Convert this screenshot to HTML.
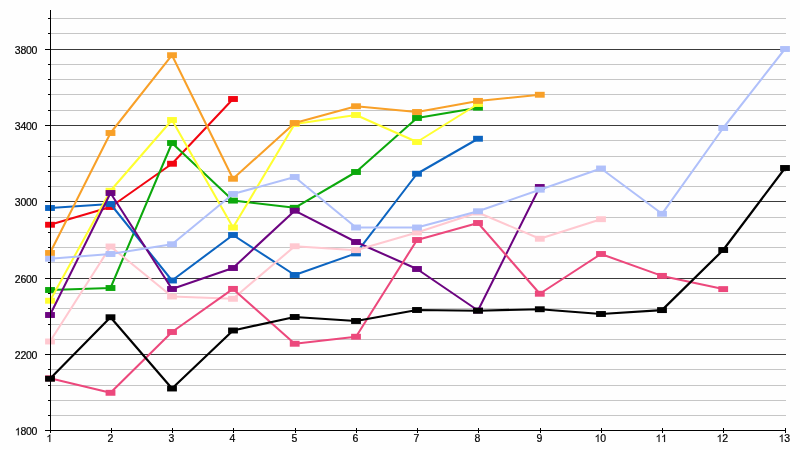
<!DOCTYPE html>
<html><head><meta charset="utf-8"><title>chart</title>
<style>
html,body{margin:0;padding:0;background:#fefefe;}
body{width:800px;height:450px;overflow:hidden;font-family:"Liberation Sans",sans-serif;}
svg{display:block;opacity:0.999;will-change:transform;}
text{font-family:"Liberation Sans",sans-serif;font-size:10.5px;fill:#000;stroke:#000;stroke-width:0.2px;}
</style></head><body>
<svg width="800" height="450" viewBox="0 0 800 450">
<rect x="0" y="0" width="800" height="450" fill="#fefefe"/>

<g shape-rendering="crispEdges">
<line x1="51" y1="18.5" x2="786" y2="18.5" stroke="#c6c6c6" stroke-width="1"/>
<line x1="48" y1="18.5" x2="51" y2="18.5" stroke="#000" stroke-width="1"/>
<line x1="51" y1="33.5" x2="786" y2="33.5" stroke="#c6c6c6" stroke-width="1"/>
<line x1="48" y1="33.5" x2="51" y2="33.5" stroke="#000" stroke-width="1"/>
<line x1="51" y1="49.5" x2="786" y2="49.5" stroke="#3a3a3a" stroke-width="1"/>
<line x1="45" y1="49.5" x2="51" y2="49.5" stroke="#000" stroke-width="1"/>
<line x1="51" y1="64.5" x2="786" y2="64.5" stroke="#c6c6c6" stroke-width="1"/>
<line x1="48" y1="64.5" x2="51" y2="64.5" stroke="#000" stroke-width="1"/>
<line x1="51" y1="79.5" x2="786" y2="79.5" stroke="#c6c6c6" stroke-width="1"/>
<line x1="48" y1="79.5" x2="51" y2="79.5" stroke="#000" stroke-width="1"/>
<line x1="51" y1="94.5" x2="786" y2="94.5" stroke="#c6c6c6" stroke-width="1"/>
<line x1="48" y1="94.5" x2="51" y2="94.5" stroke="#000" stroke-width="1"/>
<line x1="51" y1="110.5" x2="786" y2="110.5" stroke="#c6c6c6" stroke-width="1"/>
<line x1="48" y1="110.5" x2="51" y2="110.5" stroke="#000" stroke-width="1"/>
<line x1="51" y1="125.5" x2="786" y2="125.5" stroke="#3a3a3a" stroke-width="1"/>
<line x1="45" y1="125.5" x2="51" y2="125.5" stroke="#000" stroke-width="1"/>
<line x1="51" y1="140.5" x2="786" y2="140.5" stroke="#c6c6c6" stroke-width="1"/>
<line x1="48" y1="140.5" x2="51" y2="140.5" stroke="#000" stroke-width="1"/>
<line x1="51" y1="156.5" x2="786" y2="156.5" stroke="#c6c6c6" stroke-width="1"/>
<line x1="48" y1="156.5" x2="51" y2="156.5" stroke="#000" stroke-width="1"/>
<line x1="51" y1="171.5" x2="786" y2="171.5" stroke="#c6c6c6" stroke-width="1"/>
<line x1="48" y1="171.5" x2="51" y2="171.5" stroke="#000" stroke-width="1"/>
<line x1="51" y1="186.5" x2="786" y2="186.5" stroke="#c6c6c6" stroke-width="1"/>
<line x1="48" y1="186.5" x2="51" y2="186.5" stroke="#000" stroke-width="1"/>
<line x1="51" y1="201.5" x2="786" y2="201.5" stroke="#3a3a3a" stroke-width="1"/>
<line x1="45" y1="201.5" x2="51" y2="201.5" stroke="#000" stroke-width="1"/>
<line x1="51" y1="217.5" x2="786" y2="217.5" stroke="#c6c6c6" stroke-width="1"/>
<line x1="48" y1="217.5" x2="51" y2="217.5" stroke="#000" stroke-width="1"/>
<line x1="51" y1="232.5" x2="786" y2="232.5" stroke="#c6c6c6" stroke-width="1"/>
<line x1="48" y1="232.5" x2="51" y2="232.5" stroke="#000" stroke-width="1"/>
<line x1="51" y1="247.5" x2="786" y2="247.5" stroke="#c6c6c6" stroke-width="1"/>
<line x1="48" y1="247.5" x2="51" y2="247.5" stroke="#000" stroke-width="1"/>
<line x1="51" y1="262.5" x2="786" y2="262.5" stroke="#c6c6c6" stroke-width="1"/>
<line x1="48" y1="262.5" x2="51" y2="262.5" stroke="#000" stroke-width="1"/>
<line x1="51" y1="278.5" x2="786" y2="278.5" stroke="#3a3a3a" stroke-width="1"/>
<line x1="45" y1="278.5" x2="51" y2="278.5" stroke="#000" stroke-width="1"/>
<line x1="51" y1="293.5" x2="786" y2="293.5" stroke="#c6c6c6" stroke-width="1"/>
<line x1="48" y1="293.5" x2="51" y2="293.5" stroke="#000" stroke-width="1"/>
<line x1="51" y1="308.5" x2="786" y2="308.5" stroke="#c6c6c6" stroke-width="1"/>
<line x1="48" y1="308.5" x2="51" y2="308.5" stroke="#000" stroke-width="1"/>
<line x1="51" y1="324.5" x2="786" y2="324.5" stroke="#c6c6c6" stroke-width="1"/>
<line x1="48" y1="324.5" x2="51" y2="324.5" stroke="#000" stroke-width="1"/>
<line x1="51" y1="339.5" x2="786" y2="339.5" stroke="#c6c6c6" stroke-width="1"/>
<line x1="48" y1="339.5" x2="51" y2="339.5" stroke="#000" stroke-width="1"/>
<line x1="51" y1="354.5" x2="786" y2="354.5" stroke="#3a3a3a" stroke-width="1"/>
<line x1="45" y1="354.5" x2="51" y2="354.5" stroke="#000" stroke-width="1"/>
<line x1="51" y1="369.5" x2="786" y2="369.5" stroke="#c6c6c6" stroke-width="1"/>
<line x1="48" y1="369.5" x2="51" y2="369.5" stroke="#000" stroke-width="1"/>
<line x1="51" y1="385.5" x2="786" y2="385.5" stroke="#c6c6c6" stroke-width="1"/>
<line x1="48" y1="385.5" x2="51" y2="385.5" stroke="#000" stroke-width="1"/>
<line x1="51" y1="400.5" x2="786" y2="400.5" stroke="#c6c6c6" stroke-width="1"/>
<line x1="48" y1="400.5" x2="51" y2="400.5" stroke="#000" stroke-width="1"/>
<line x1="51" y1="415.5" x2="786" y2="415.5" stroke="#c6c6c6" stroke-width="1"/>
<line x1="48" y1="415.5" x2="51" y2="415.5" stroke="#000" stroke-width="1"/>
</g>

<path d="M763 0H583V1147Q518 1085 412.5 1023T223 930V1104Q373 1174.5 485 1275T644 1470H763Z" transform="translate(14.84,435.30) scale(0.005127,-0.005127)" fill="#000" stroke="#000" stroke-width="24"/>
<text x="20.38" y="435.30">8</text>
<text x="25.92" y="435.30">0</text>
<text x="31.46" y="435.30">0</text>
<text x="14.84" y="359.16">2</text>
<text x="20.38" y="359.16">2</text>
<text x="25.92" y="359.16">0</text>
<text x="31.46" y="359.16">0</text>
<text x="14.84" y="283.02">2</text>
<text x="20.38" y="283.02">6</text>
<text x="25.92" y="283.02">0</text>
<text x="31.46" y="283.02">0</text>
<text x="14.84" y="205.88">3</text>
<text x="20.38" y="205.88">0</text>
<text x="25.92" y="205.88">0</text>
<text x="31.46" y="205.88">0</text>
<text x="14.84" y="129.74">3</text>
<text x="20.38" y="129.74">4</text>
<text x="25.92" y="129.74">0</text>
<text x="31.46" y="129.74">0</text>
<text x="14.84" y="53.60">3</text>
<text x="20.38" y="53.60">8</text>
<text x="25.92" y="53.60">0</text>
<text x="31.46" y="53.60">0</text>
<path d="M763 0H583V1147Q518 1085 412.5 1023T223 930V1104Q373 1174.5 485 1275T644 1470H763Z" transform="translate(46.38,442.00) scale(0.005127,-0.005127)" fill="#000" stroke="#000" stroke-width="24"/>
<text x="107.38" y="442.00">2</text>
<text x="168.38" y="442.00">3</text>
<text x="229.38" y="442.00">4</text>
<text x="291.38" y="442.00">5</text>
<text x="352.38" y="442.00">6</text>
<text x="413.38" y="442.00">7</text>
<text x="474.38" y="442.00">8</text>
<text x="536.38" y="442.00">9</text>
<path d="M763 0H583V1147Q518 1085 412.5 1023T223 930V1104Q373 1174.5 485 1275T644 1470H763Z" transform="translate(594.61,442.00) scale(0.005127,-0.005127)" fill="#000" stroke="#000" stroke-width="24"/>
<text x="600.15" y="442.00">0</text>
<path d="M763 0H583V1147Q518 1085 412.5 1023T223 930V1104Q373 1174.5 485 1275T644 1470H763Z" transform="translate(655.61,442.00) scale(0.005127,-0.005127)" fill="#000" stroke="#000" stroke-width="24"/>
<path d="M763 0H583V1147Q518 1085 412.5 1023T223 930V1104Q373 1174.5 485 1275T644 1470H763Z" transform="translate(661.15,442.00) scale(0.005127,-0.005127)" fill="#000" stroke="#000" stroke-width="24"/>
<path d="M763 0H583V1147Q518 1085 412.5 1023T223 930V1104Q373 1174.5 485 1275T644 1470H763Z" transform="translate(716.61,442.00) scale(0.005127,-0.005127)" fill="#000" stroke="#000" stroke-width="24"/>
<text x="722.15" y="442.00">2</text>
<path d="M763 0H583V1147Q518 1085 412.5 1023T223 930V1104Q373 1174.5 485 1275T644 1470H763Z" transform="translate(778.61,442.00) scale(0.005127,-0.005127)" fill="#000" stroke="#000" stroke-width="24"/>
<text x="784.15" y="442.00">3</text>


<g fill="#f20410" stroke="none"><polyline points="50.00,224.75 110.50,207.00 172.00,163.75 233.00,99.00" fill="none" stroke="#f20410" stroke-width="2.05" stroke-linejoin="round"/>
<rect x="45.10" y="221.80" width="9.8" height="5.9"/>
<rect x="105.60" y="204.05" width="9.8" height="5.9"/>
<rect x="167.10" y="160.80" width="9.8" height="5.9"/>
<rect x="228.10" y="96.05" width="9.8" height="5.9"/>
</g>

<g fill="#0ca80c" stroke="none"><polyline points="50.00,290.00 110.50,288.00 172.00,143.00 233.00,200.60 294.70,207.80 356.00,172.00 417.00,118.00 478.00,107.70" fill="none" stroke="#0ca80c" stroke-width="2.05" stroke-linejoin="round"/>
<rect x="45.10" y="287.05" width="9.8" height="5.9"/>
<rect x="105.60" y="285.05" width="9.8" height="5.9"/>
<rect x="167.10" y="140.05" width="9.8" height="5.9"/>
<rect x="228.10" y="197.65" width="9.8" height="5.9"/>
<rect x="289.80" y="204.85" width="9.8" height="5.9"/>
<rect x="351.10" y="169.05" width="9.8" height="5.9"/>
<rect x="412.10" y="115.05" width="9.8" height="5.9"/>
<rect x="473.10" y="104.75" width="9.8" height="5.9"/>
</g>

<g fill="#0c64c0" stroke="none"><polyline points="50.00,208.00 110.50,204.00 172.00,280.50 233.00,235.00 294.70,275.00 356.00,253.40 417.00,173.75 478.00,138.75" fill="none" stroke="#0c64c0" stroke-width="2.05" stroke-linejoin="round"/>
<rect x="45.10" y="205.05" width="9.8" height="5.9"/>
<rect x="105.60" y="201.05" width="9.8" height="5.9"/>
<rect x="167.10" y="277.55" width="9.8" height="5.9"/>
<rect x="228.10" y="232.05" width="9.8" height="5.9"/>
<rect x="289.80" y="272.05" width="9.8" height="5.9"/>
<rect x="351.10" y="250.45" width="9.8" height="5.9"/>
<rect x="412.10" y="170.80" width="9.8" height="5.9"/>
<rect x="473.10" y="135.80" width="9.8" height="5.9"/>
</g>

<g fill="#ffff30" stroke="none"><polyline points="50.00,300.75 110.50,190.75 172.00,120.00 233.00,227.50 294.70,124.00 356.00,115.00 417.00,142.00 478.00,104.00" fill="none" stroke="#ffff30" stroke-width="2.05" stroke-linejoin="round"/>
<rect x="45.10" y="297.80" width="9.8" height="5.9"/>
<rect x="105.60" y="187.80" width="9.8" height="5.9"/>
<rect x="167.10" y="117.05" width="9.8" height="5.9"/>
<rect x="228.10" y="224.55" width="9.8" height="5.9"/>
<rect x="289.80" y="121.05" width="9.8" height="5.9"/>
<rect x="351.10" y="112.05" width="9.8" height="5.9"/>
<rect x="412.10" y="139.05" width="9.8" height="5.9"/>
<rect x="473.10" y="101.05" width="9.8" height="5.9"/>
</g>

<g fill="#f8a028" stroke="none"><polyline points="50.00,253.00 110.50,133.00 172.00,55.20 233.00,178.75 294.70,123.00 356.00,106.25 417.00,112.00 478.00,100.90 539.80,94.75" fill="none" stroke="#f8a028" stroke-width="2.05" stroke-linejoin="round"/>
<rect x="45.10" y="250.05" width="9.8" height="5.9"/>
<rect x="105.60" y="130.05" width="9.8" height="5.9"/>
<rect x="167.10" y="52.25" width="9.8" height="5.9"/>
<rect x="228.10" y="175.80" width="9.8" height="5.9"/>
<rect x="289.80" y="120.05" width="9.8" height="5.9"/>
<rect x="351.10" y="103.30" width="9.8" height="5.9"/>
<rect x="412.10" y="109.05" width="9.8" height="5.9"/>
<rect x="473.10" y="97.95" width="9.8" height="5.9"/>
<rect x="534.90" y="91.80" width="9.8" height="5.9"/>
</g>

<g fill="#6c0480" stroke="none"><polyline points="50.00,315.00 110.50,193.00 172.00,289.00 233.00,268.00 294.70,210.70 356.00,242.00 417.00,269.00 478.00,310.50 539.80,187.00" fill="none" stroke="#6c0480" stroke-width="2.05" stroke-linejoin="round"/>
<rect x="45.10" y="312.05" width="9.8" height="5.9"/>
<rect x="105.60" y="190.05" width="9.8" height="5.9"/>
<rect x="167.10" y="286.05" width="9.8" height="5.9"/>
<rect x="228.10" y="265.05" width="9.8" height="5.9"/>
<rect x="289.80" y="207.75" width="9.8" height="5.9"/>
<rect x="351.10" y="239.05" width="9.8" height="5.9"/>
<rect x="412.10" y="266.05" width="9.8" height="5.9"/>
<rect x="473.10" y="307.55" width="9.8" height="5.9"/>
<rect x="534.90" y="184.05" width="9.8" height="5.9"/>
</g>

<g fill="#ffc8d0" stroke="none"><polyline points="50.00,341.50 110.50,246.50 172.00,296.50 233.00,298.80 294.70,246.25 356.00,250.20 417.00,232.50 478.00,212.50 539.80,238.75 601.00,219.20" fill="none" stroke="#ffc8d0" stroke-width="2.05" stroke-linejoin="round"/>
<rect x="45.10" y="338.55" width="9.8" height="5.9"/>
<rect x="105.60" y="243.55" width="9.8" height="5.9"/>
<rect x="167.10" y="293.55" width="9.8" height="5.9"/>
<rect x="228.10" y="295.85" width="9.8" height="5.9"/>
<rect x="289.80" y="243.30" width="9.8" height="5.9"/>
<rect x="351.10" y="247.25" width="9.8" height="5.9"/>
<rect x="412.10" y="229.55" width="9.8" height="5.9"/>
<rect x="473.10" y="209.55" width="9.8" height="5.9"/>
<rect x="534.90" y="235.80" width="9.8" height="5.9"/>
<rect x="596.10" y="216.25" width="9.8" height="5.9"/>
</g>

<g fill="#ec487c" stroke="none"><polyline points="50.00,378.30 110.50,392.80 172.00,332.00 233.00,288.90 294.70,343.75 356.00,336.75 417.00,240.00 478.00,223.00 539.80,293.75 601.00,254.00 662.00,275.90 723.20,289.10" fill="none" stroke="#ec487c" stroke-width="2.05" stroke-linejoin="round"/>
<rect x="45.10" y="375.35" width="9.8" height="5.9"/>
<rect x="105.60" y="389.85" width="9.8" height="5.9"/>
<rect x="167.10" y="329.05" width="9.8" height="5.9"/>
<rect x="228.10" y="285.95" width="9.8" height="5.9"/>
<rect x="289.80" y="340.80" width="9.8" height="5.9"/>
<rect x="351.10" y="333.80" width="9.8" height="5.9"/>
<rect x="412.10" y="237.05" width="9.8" height="5.9"/>
<rect x="473.10" y="220.05" width="9.8" height="5.9"/>
<rect x="534.90" y="290.80" width="9.8" height="5.9"/>
<rect x="596.10" y="251.05" width="9.8" height="5.9"/>
<rect x="657.10" y="272.95" width="9.8" height="5.9"/>
<rect x="718.30" y="286.15" width="9.8" height="5.9"/>
</g>

<g fill="#b0c0fa" stroke="none"><polyline points="50.00,258.75 110.50,254.00 172.00,244.25 233.00,194.00 294.70,177.00 356.00,227.50 417.00,227.50 478.00,211.25 539.80,189.70 601.00,168.50 662.00,213.80 723.20,128.00 785.00,49.00" fill="none" stroke="#b0c0fa" stroke-width="2.05" stroke-linejoin="round"/>
<rect x="45.10" y="255.80" width="9.8" height="5.9"/>
<rect x="105.60" y="251.05" width="9.8" height="5.9"/>
<rect x="167.10" y="241.30" width="9.8" height="5.9"/>
<rect x="228.10" y="191.05" width="9.8" height="5.9"/>
<rect x="289.80" y="174.05" width="9.8" height="5.9"/>
<rect x="351.10" y="224.55" width="9.8" height="5.9"/>
<rect x="412.10" y="224.55" width="9.8" height="5.9"/>
<rect x="473.10" y="208.30" width="9.8" height="5.9"/>
<rect x="534.90" y="186.75" width="9.8" height="5.9"/>
<rect x="596.10" y="165.55" width="9.8" height="5.9"/>
<rect x="657.10" y="210.85" width="9.8" height="5.9"/>
<rect x="718.30" y="125.05" width="9.8" height="5.9"/>
<rect x="780.10" y="46.05" width="9.8" height="5.9"/>
</g>

<g fill="#000000" stroke="none"><polyline points="50.00,378.75 110.50,317.25 172.00,388.50 233.00,330.50 294.70,317.00 356.00,321.00 417.00,310.00 478.00,310.75 539.80,309.25 601.00,314.00 662.00,310.10 723.20,250.00 785.00,168.00" fill="none" stroke="#000000" stroke-width="2.1999999999999997" stroke-linejoin="round"/>
<rect x="45.10" y="375.80" width="9.8" height="5.9"/>
<rect x="105.60" y="314.30" width="9.8" height="5.9"/>
<rect x="167.10" y="385.55" width="9.8" height="5.9"/>
<rect x="228.10" y="327.55" width="9.8" height="5.9"/>
<rect x="289.80" y="314.05" width="9.8" height="5.9"/>
<rect x="351.10" y="318.05" width="9.8" height="5.9"/>
<rect x="412.10" y="307.05" width="9.8" height="5.9"/>
<rect x="473.10" y="307.80" width="9.8" height="5.9"/>
<rect x="534.90" y="306.30" width="9.8" height="5.9"/>
<rect x="596.10" y="311.05" width="9.8" height="5.9"/>
<rect x="657.10" y="307.15" width="9.8" height="5.9"/>
<rect x="718.30" y="247.05" width="9.8" height="5.9"/>
<rect x="780.10" y="165.05" width="9.8" height="5.9"/>
</g>

<g shape-rendering="crispEdges" stroke="#000" stroke-width="1">
<line x1="50.5" y1="10" x2="50.5" y2="431"/>
<line x1="45" y1="430.5" x2="786" y2="430.5"/>
<line x1="50.5" y1="428" x2="50.5" y2="433"/>
<line x1="111.5" y1="428" x2="111.5" y2="433"/>
<line x1="172.5" y1="428" x2="172.5" y2="433"/>
<line x1="233.5" y1="428" x2="233.5" y2="433"/>
<line x1="295.5" y1="428" x2="295.5" y2="433"/>
<line x1="356.5" y1="428" x2="356.5" y2="433"/>
<line x1="417.5" y1="428" x2="417.5" y2="433"/>
<line x1="478.5" y1="428" x2="478.5" y2="433"/>
<line x1="540.5" y1="428" x2="540.5" y2="433"/>
<line x1="601.5" y1="428" x2="601.5" y2="433"/>
<line x1="662.5" y1="428" x2="662.5" y2="433"/>
<line x1="723.5" y1="428" x2="723.5" y2="433"/>
<line x1="785.5" y1="428" x2="785.5" y2="433"/>
</g>

</svg>
</body></html>
